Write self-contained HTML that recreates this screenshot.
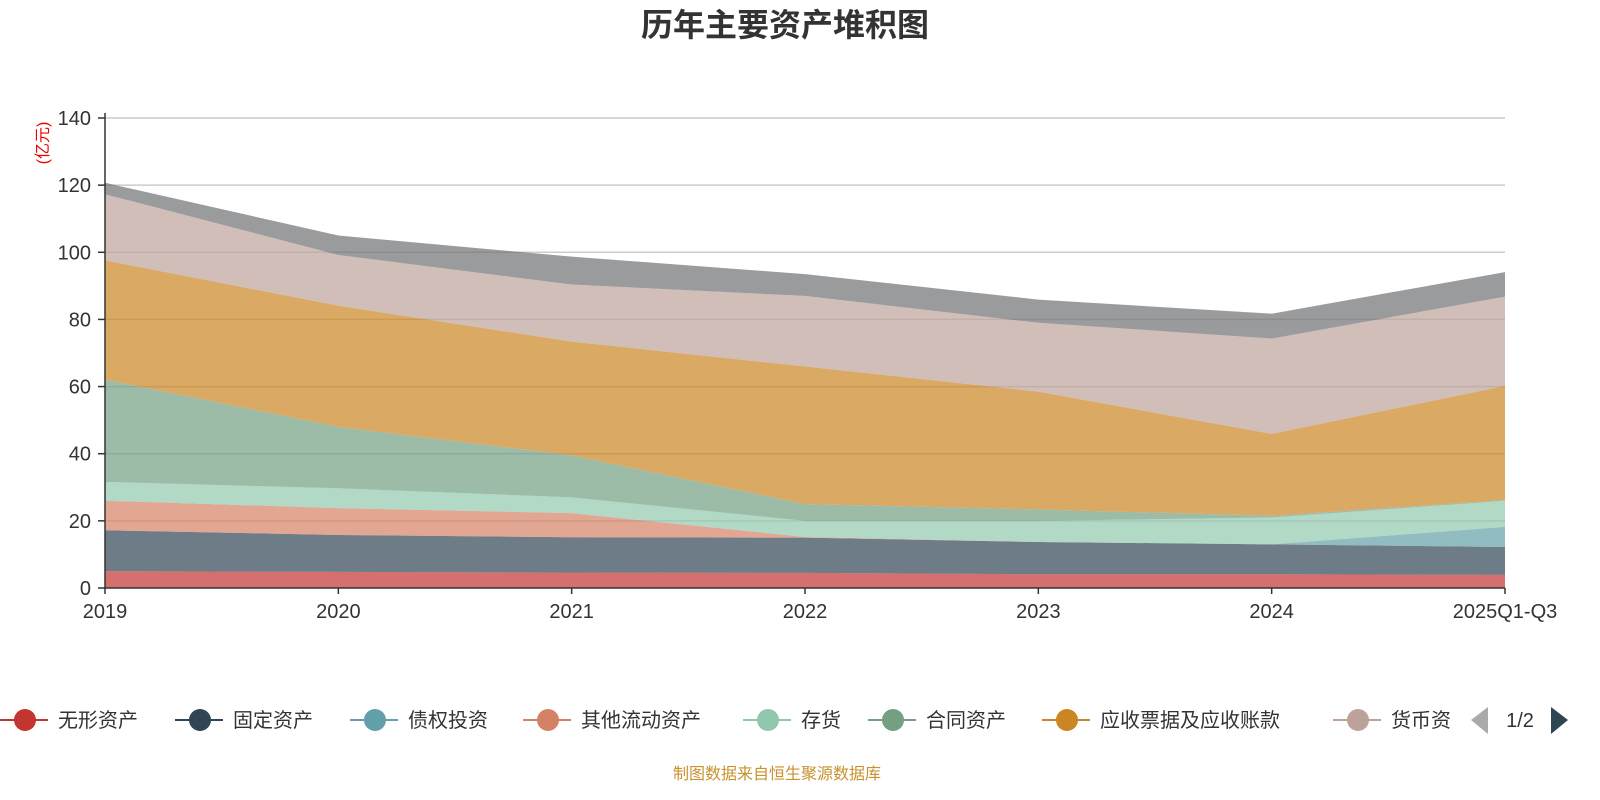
<!DOCTYPE html>
<html><head><meta charset="utf-8"><style>
html,body{margin:0;padding:0;background:#fff;overflow:hidden;width:1600px;height:800px;font-family:"Liberation Sans","Noto Sans CJK SC",sans-serif;}
svg{display:block;}
svg text{font-family:"Liberation Sans","Noto Sans CJK SC",sans-serif;}
</style></head><body>
<svg id="c" width="1600" height="800" xmlns="http://www.w3.org/2000/svg">
<text x="785" y="36" text-anchor="middle" font-size="32" font-weight="bold" fill="#333">历年主要资产堆积图</text>
<text transform="translate(48,143) rotate(-90)" text-anchor="middle" font-size="16" fill="#e00">(亿元)</text>
<g id="grid"></g><g id="areas"></g><g id="axes"></g><g id="legend"></g>
<text x="777" y="779" text-anchor="middle" font-size="16" fill="#c8922f">制图数据来自恒生聚源数据库</text>
</svg>
<script>
const categories=["2019","2020","2021","2022","2023","2024","2025Q1-Q3"];
const seriesNames=["无形资产","固定资产","债权投资","其他流动资产","存货","合同资产","应收票据及应收账款","货币资金","其他资产"];
const s0=[5.0,4.8,4.6,4.5,4.1,4.1,3.9];
const s1=[12.2,11,10.5,10.5,9.6,8.9,8.3];
const s2=[0,0,0,0,0,0,6];
const s3=[8.8,8,7.2,0.2,0,0,0];
const s4=[5.6,5.9,4.7,4.8,6.3,8,7.8];
const s5=[30.5,18.3,12.5,5,3.4,0.5,0.2];
const s6=[35.5,36.1,33.9,41,35.1,24.4,34];
const s7=[19.7,15.1,17,21,20.5,28.4,26.6];
const s8=[3.4,5.8,8.3,6.5,6.9,7.4,7.3];
const yTicks=[0,20,40,60,80,100,120,140];
const series=[s0,s1,s2,s3,s4,s5,s6,s7,s8];
const colors=["#c23531","#2f4554","#61a0a8","#d48265","#91c7ae","#749f83","#ca8622","#bda29a","#6e7074"];
const NS="http://www.w3.org/2000/svg";
const X0=105,X1=1505,Y0=588,Y1=118,YMAX=140;
const xs=i=>X0+(X1-X0)*i/(categories.length-1);
const ys=v=>Y0-(Y0-Y1)*v/YMAX;
function mk(tag,attrs,parent){const e=document.createElementNS(NS,tag);for(const k in attrs)e.setAttribute(k,attrs[k]);parent.appendChild(e);return e;}
const grid=document.getElementById('grid'),areas=document.getElementById('areas'),axes=document.getElementById('axes'),legend=document.getElementById('legend');
yTicks.forEach(t=>{
  if(t>0){const l=mk('line',{x1:X0,x2:X1,y1:ys(t),y2:ys(t),stroke:'#ccc','stroke-width':1.5},grid);
  
  }
  const tk=mk('line',{x1:X0-7,x2:X0,y1:ys(t),y2:ys(t),stroke:'#333','stroke-width':1.5},axes);
  
  
  const tx=mk('text',{x:X0-14,y:ys(t)+7,'text-anchor':'end','font-size':20,fill:'#333'},axes);tx.textContent=t;
  
  
});
let cum=categories.map(()=>0);
series.forEach((s,si)=>{
  const low=cum.slice();const high=cum.map((c,i)=>c+s[i]);
  let d='M'+high.map((v,i)=>xs(i)+','+ys(v)).join('L');
  for(let i=categories.length-1;i>=0;i--)d+='L'+xs(i)+','+ys(low[i]);
  const p=mk('path',{d:d+'Z',fill:colors[si],'fill-opacity':0.7,stroke:'none'},areas);
  
  
  cum=high;
});
mk('line',{x1:X0,x2:X0,y1:Y1-5,y2:Y0,stroke:'#333','stroke-width':1.5},axes);
mk('line',{x1:X0,x2:X1,y1:Y0,y2:Y0,stroke:'#333','stroke-width':1.5},axes);
categories.forEach((c,i)=>{
  const tk=mk('line',{x1:xs(i),x2:xs(i),y1:Y0,y2:Y0+6,stroke:'#333','stroke-width':1.5},axes);
  
  
  const tx=mk('text',{x:xs(i),y:Y0+30,'text-anchor':'middle','font-size':20,fill:'#333'},axes);tx.textContent=c;
  
  
});
const legX=[0,175,350,523,743,868,1042,1333];
for(let i=0;i<8;i++){
  const g=mk('g',{},legend);
  
  
  const x=legX[i];
  mk('line',{x1:x,x2:x+48,y1:720,y2:720,stroke:colors[i],'stroke-width':2},g);
  mk('circle',{cx:x+25,cy:720,r:11,fill:colors[i]},g);
  const t=mk('text',{x:x+58,y:727,'font-size':20,fill:'#333'},g);t.textContent=seriesNames[i];
  if(i==7){t.textContent='货币资';mk('rect',{x:1468,y:700,width:132,height:40,fill:'#fff'},legend);}
}
const pl=mk('path',{d:'M1488,707 L1471,720 L1488,734 Z',fill:'#aaa'},legend);


const pt=mk('text',{x:1520,y:727,'text-anchor':'middle','font-size':20,fill:'#333'},legend);pt.textContent='1/2';


const pr=mk('path',{d:'M1551,707 L1568,720 L1551,734 Z',fill:'#2f4554'},legend);


</script>
</body></html>
